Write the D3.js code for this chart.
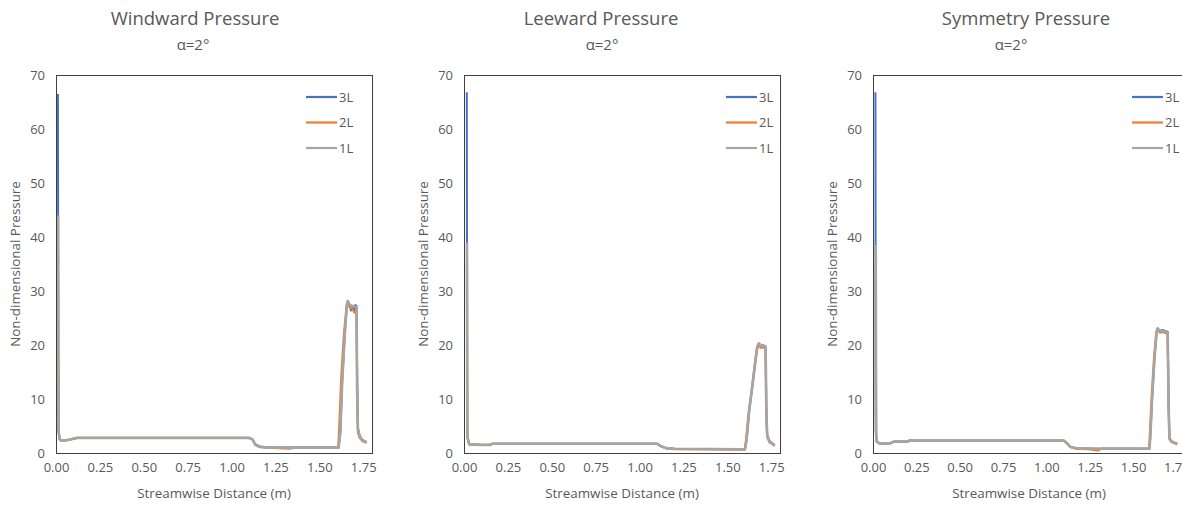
<!DOCTYPE html>
<html>
<head>
<meta charset="utf-8">
<script src="https://cdn.jsdelivr.net/npm/d3@7"></script>
<style>
  html, body { margin: 0; padding: 0; background: #fff; }
  svg { display: block; font-family: "Open Sans", "Noto Sans", sans-serif; }
</style>
</head>
<body>
<svg id="chart" width="1182" height="506"></svg>
<script>
// Shared axis settings
const xTicks = [0, 0.25, 0.5, 0.75, 1.0, 1.25, 1.5, 1.75];
const yTicks = [0, 10, 20, 30, 40, 50, 60, 70];
const seriesNames = ["3L", "2L", "1L"];
const seriesColors = ["#4472C4", "#ED7D31", "#A5A5A5"];
const panelTitles = ["Windward Pressure", "Leeward Pressure", "Symmetry Pressure"];
const panelSubtitle = "α=2°";

// Windward surface, [streamwise distance (m), non-dimensional pressure]
const windward3L = [[0.011,66.5],[0.012,44],[0.013,20],[0.015,4],[0.02,2.6],[0.03,2.3],[0.05,2.3],[0.08,2.5],[0.12,2.8],[1.10,2.8],[1.12,2.5],[1.135,1.6],[1.16,1.2],[1.20,1.0],[1.61,1.0],[1.62,4],[1.63,13],[1.645,22],[1.657,27.6],[1.662,28.2],[1.672,27.4],[1.68,26.4],[1.69,27.0],[1.70,26.2],[1.705,27.4],[1.712,27.2],[1.716,12],[1.72,4.6],[1.73,3.2],[1.745,2.4],[1.77,2.0]];
const windward2L = [[0.012,31.5],[0.013,15],[0.015,4],[0.02,2.6],[0.03,2.3],[0.05,2.3],[0.08,2.5],[0.12,2.8],[1.10,2.8],[1.12,2.5],[1.135,1.5],[1.16,1.1],[1.20,1.0],[1.33,0.8],[1.36,1.0],[1.608,1.0],[1.615,6],[1.625,14],[1.64,22],[1.655,27.0],[1.662,27.8],[1.672,27.0],[1.69,26.6],[1.70,26.0],[1.712,26.4],[1.716,10],[1.72,3.8],[1.73,2.8],[1.745,2.2],[1.77,1.9]];
const windward1L = [[0.012,44],[0.013,20],[0.015,4],[0.02,2.6],[0.03,2.3],[0.05,2.3],[0.08,2.5],[0.12,2.8],[1.10,2.8],[1.12,2.5],[1.135,1.6],[1.16,1.2],[1.20,1.0],[1.61,1.0],[1.62,4],[1.63,13],[1.645,22],[1.657,27.5],[1.662,28.1],[1.672,27.5],[1.69,27.2],[1.712,27.0],[1.715,12],[1.72,4.2],[1.73,3.0],[1.745,2.4],[1.77,2.0]];

// Leeward surface
const leeward3L = [[0.016,66.8],[0.017,39],[0.018,15],[0.019,3.0],[0.03,1.6],[0.10,1.5],[0.15,1.5],[0.16,1.7],[1.10,1.7],[1.12,1.3],[1.15,0.9],[1.20,0.8],[1.60,0.7],[1.61,2.5],[1.625,8],[1.645,13],[1.66,17],[1.672,19.8],[1.68,20.3],[1.69,19.9],[1.70,20.0],[1.718,19.7],[1.722,8],[1.727,3.3],[1.74,2.2],[1.755,1.8],[1.77,1.4]];
const leeward2L = [[0.017,35],[0.018,15],[0.019,3.0],[0.03,1.6],[0.10,1.5],[0.15,1.5],[0.16,1.7],[1.10,1.7],[1.12,1.3],[1.15,0.9],[1.20,0.7],[1.60,0.6],[1.605,2],[1.62,7],[1.64,12],[1.655,16],[1.668,19.4],[1.677,20.0],[1.69,19.5],[1.70,19.6],[1.718,19.4],[1.722,7],[1.727,3.0],[1.74,2.0],[1.755,1.7],[1.77,1.3]];
const leeward1L = [[0.017,39],[0.018,15],[0.019,3.0],[0.03,1.6],[0.10,1.5],[0.15,1.5],[0.16,1.7],[1.10,1.7],[1.12,1.3],[1.15,0.9],[1.20,0.8],[1.60,0.7],[1.61,2.5],[1.625,8],[1.645,13],[1.66,17],[1.672,19.8],[1.68,20.3],[1.69,19.9],[1.70,20.0],[1.718,19.7],[1.722,8],[1.727,3.3],[1.74,2.2],[1.755,1.8],[1.77,1.4]];

// Symmetry plane
const symmetry3L = [[0.014,66.8],[0.015,38.5],[0.015,10],[0.016,4],[0.02,2.2],[0.04,1.7],[0.10,1.8],[0.12,2.1],[0.20,2.1],[0.21,2.3],[1.10,2.3],[1.12,1.8],[1.14,1.1],[1.17,0.9],[1.30,0.8],[1.595,0.8],[1.60,3],[1.61,10],[1.625,18],[1.637,22.6],[1.642,23.1],[1.655,22.6],[1.67,22.8],[1.70,22.4],[1.705,10],[1.71,2.8],[1.72,2.2],[1.74,1.9],[1.755,1.7]];
const symmetry2L = [[0.016,34],[0.017,15],[0.018,4],[0.02,2.2],[0.04,1.7],[0.10,1.8],[0.12,2.1],[0.20,2.1],[0.21,2.3],[1.10,2.3],[1.12,1.8],[1.14,1.1],[1.17,0.8],[1.24,0.7],[1.30,0.5],[1.32,0.8],[1.593,0.8],[1.598,4],[1.607,10],[1.62,17],[1.634,22.2],[1.64,22.8],[1.655,22.3],[1.67,22.4],[1.70,22.1],[1.705,9],[1.71,2.6],[1.72,2.1],[1.74,1.8],[1.755,1.6]];
const symmetry1L = [[0.016,38.5],[0.017,15],[0.018,4],[0.02,2.2],[0.04,1.7],[0.10,1.8],[0.12,2.1],[0.20,2.1],[0.21,2.3],[1.10,2.3],[1.12,1.8],[1.14,1.1],[1.17,0.9],[1.30,0.8],[1.595,0.8],[1.60,3],[1.61,10],[1.625,18],[1.637,22.6],[1.642,23.0],[1.655,22.6],[1.67,22.6],[1.70,22.4],[1.705,10],[1.71,2.8],[1.72,2.2],[1.74,1.9],[1.755,1.7]];

const panelSeries = [
  [windward3L, windward2L, windward1L],
  [leeward3L, leeward2L, leeward1L],
  [symmetry3L, symmetry2L, symmetry1L]
];

// Panel geometry (pixels)
const layout = [
  { left: 56,  width: 316, titleX: 195,  subX: 193,  legendX: 306 },
  { left: 464, width: 316, titleX: 601,  subX: 602,  legendX: 726 },
  { left: 873, width: 312, titleX: 1026, subX: 1011, legendX: 1132 }
];
const plotTop = 75, plotBottom = 453;
const textColor = "#595959";
const lineWidths = [2, 2.2, 2.6];

const svg = d3.select("#chart");

layout.forEach((L, p) => {
  const x = d3.scaleLinear().domain([0, 1.8]).range([L.left, L.left + L.width]);
  const y = d3.scaleLinear().domain([0, 70]).range([plotBottom, plotTop]);
  const g = svg.append("g");

  // Titles
  g.append("text").attr("x", L.titleX).attr("y", 25)
    .attr("text-anchor", "middle").attr("font-size", 18.5).attr("fill", textColor)
    .text(panelTitles[p]);
  g.append("text").attr("x", L.subX).attr("y", 50)
    .attr("text-anchor", "middle").attr("font-size", 15).attr("fill", textColor)
    .text(panelSubtitle);

  // Axes (tick labels only; frame drawn separately)
  const xAxis = d3.axisBottom(x).tickValues(xTicks).tickFormat(d3.format(".2f")).tickSize(0).tickPadding(10);
  const gx = g.append("g").attr("transform", `translate(0,${plotBottom})`).call(xAxis);
  gx.select(".domain").remove();
  gx.selectAll("text").attr("font-size", 13).attr("fill", textColor).attr("font-family", "Open Sans, sans-serif");

  const yAxis = d3.axisLeft(y).tickValues(yTicks).tickFormat(d3.format("d")).tickSize(0).tickPadding(11);
  const gy = g.append("g").attr("transform", `translate(${L.left},0)`).call(yAxis);
  gy.select(".domain").remove();
  gy.selectAll("text").attr("font-size", 13).attr("fill", textColor).attr("font-family", "Open Sans, sans-serif");

  // Axis titles
  g.append("text").attr("x", L.left + L.width / 2).attr("y", 498)
    .attr("text-anchor", "middle").attr("font-size", 13.4).attr("fill", textColor)
    .text("Streamwise Distance (m)");
  g.append("text")
    .attr("transform", `translate(${L.left - 36},${(plotTop + plotBottom) / 2}) rotate(-90)`)
    .attr("text-anchor", "middle").attr("font-size", 13.4).attr("fill", textColor)
    .text("Non-dimensional Pressure");

  // Series lines
  const line = d3.line().x(d => x(d[0])).y(d => y(d[1])).curve(d3.curveLinear);
  panelSeries[p].forEach((data, i) => {
    g.append("path").datum(data)
      .attr("d", line)
      .attr("fill", "none")
      .attr("stroke", seriesColors[i])
      .attr("stroke-width", lineWidths[i])
      .attr("stroke-linejoin", "round");
  });

  // Plot frame
  g.append("rect")
    .attr("x", L.left + 0.5).attr("y", plotTop + 0.5)
    .attr("width", L.width).attr("height", plotBottom - plotTop)
    .attr("fill", "none").attr("stroke", "#404040").attr("stroke-width", 1);

  // Legend
  seriesNames.forEach((name, i) => {
    const ly = 97 + i * 25.5;
    g.append("line")
      .attr("x1", L.legendX).attr("x2", L.legendX + 31)
      .attr("y1", ly).attr("y2", ly)
      .attr("stroke", seriesColors[i]).attr("stroke-width", 2.2);
    g.append("text").attr("x", L.legendX + 33).attr("y", ly + 4.5)
      .attr("font-size", 13).attr("fill", textColor).text(name);
  });
});
</script>
</body>
</html>
